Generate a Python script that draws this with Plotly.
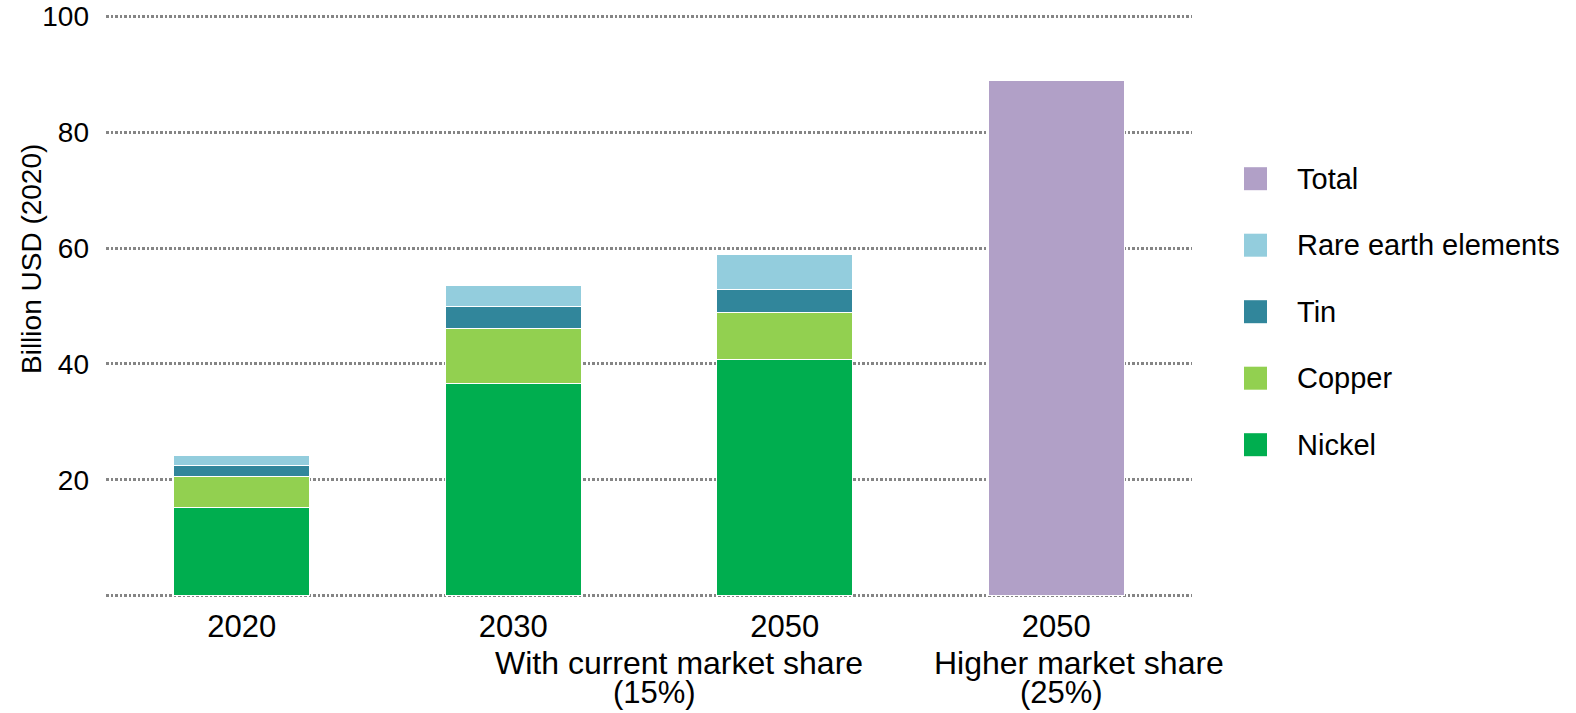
import plotly.graph_objects as go

categories = ["2020", "2030", "2050", "2050"]
nickel = [15.2, 36.6, 40.8, None]
copper = [5.35, 9.6, 8.0, None]
tin = [1.85, 3.7, 4.1, None]
ree = [1.8, 3.7, 6.0, None]
total = [None, None, None, 88.9]

y_ticks = [0, 20, 40, 60, 80, 100]
y_ticktext = ["", "20", "40", "60", "80", "100"]

legend_names = ["Total", "Rare earth elements", "Tin", "Copper", "Nickel"]
colors = {
    "Nickel": "#00AE4F",
    "Copper": "#92D050",
    "Tin": "#31869B",
    "Rare earth elements": "#93CDDD",
    "Total": "#B1A0C7",
}

# (text, x position in category units, vertical offset below axis in px, font size)
group_labels = [
    ("With current market share", 1.609, -66, 32),
    ("(15%)", 1.519, -95, 31),
    ("Higher market share", 3.085, -66, 32),
    ("(25%)", 3.020, -95, 31),
]

FONT = "Liberation Sans, Arial, sans-serif"
xpos = list(range(len(categories)))

# layout geometry (page pixels)
W, H = 1576, 713
PL, PR, PT, PB = 106, 1192, 15, 597  # plot area
L, T = PL, PT
R, B = W - PR, H - PB
PW, PH = W - L - R, H - T - B


def px_to_paper_x(px):
    return (px - PL) / PW


def px_to_paper_y(py):
    return 1 - (py - PT) / PH


fig = go.Figure()
for name, vals in [("Nickel", nickel), ("Copper", copper), ("Tin", tin),
                   ("Rare earth elements", ree), ("Total", total)]:
    fig.add_trace(go.Bar(
        x=xpos, y=vals, name=name, width=0.5,
        marker=dict(color=colors[name], line=dict(color="white", width=1)),
        showlegend=False,
    ))

# manual legend
for i, name in enumerate(legend_names):
    yc = 178.7 + i * 66.5
    fig.add_shape(type="rect", xref="paper", yref="paper",
                  x0=px_to_paper_x(1244), x1=px_to_paper_x(1267),
                  y0=px_to_paper_y(yc + 11.5), y1=px_to_paper_y(yc - 11.5),
                  fillcolor=colors[name], line=dict(width=0))
    fig.add_annotation(text=name, xref="paper", yref="paper",
                       x=px_to_paper_x(1295), y=px_to_paper_y(yc),
                       xanchor="left", yanchor="middle",
                       showarrow=False, font=dict(size=29, color="black", family=FONT))

for text, xv, ys, fs in group_labels:
    fig.add_annotation(text=text, xref="x", yref="paper", x=xv, y=0, yshift=ys,
                       xanchor="center", yanchor="middle", showarrow=False,
                       font=dict(size=fs, color="black", family=FONT))

# y-axis title
fig.add_annotation(text="Billion USD (2020)", xref="paper", yref="paper",
                   x=px_to_paper_x(31), y=px_to_paper_y(259), textangle=-90,
                   xanchor="center", yanchor="middle", showarrow=False,
                   font=dict(size=28, color="black", family=FONT))

fig.update_layout(
    barmode="stack",
    width=W, height=H,
    margin=dict(l=L, r=R, t=T, b=B, autoexpand=False),
    plot_bgcolor="white", paper_bgcolor="white",
    font=dict(family=FONT, color="black"),
)
fig.update_xaxes(
    range=[-0.5, 3.5], tickvals=xpos, ticktext=categories,
    showgrid=False, zeroline=False, showline=False, automargin=False,
    ticks="", ticklabelstandoff=8,
    tickfont=dict(size=31, color="black"),
)
fig.update_yaxes(
    range=[-0.2, 100.2], tickvals=y_ticks, ticktext=y_ticktext,
    showgrid=True, gridcolor="#858585", gridwidth=2.5, griddash="2.5px,2px",
    zeroline=False, showline=False, ticks="", ticklabelstandoff=16,
    automargin=False, ticklabeloverflow="allow",
    tickfont=dict(size=28, color="black"),
)
fig.write_html(
    "out.html",
    config={"displayModeBar": False},
    post_script="document.body.style.margin='0';document.body.style.overflow='hidden';",
)
